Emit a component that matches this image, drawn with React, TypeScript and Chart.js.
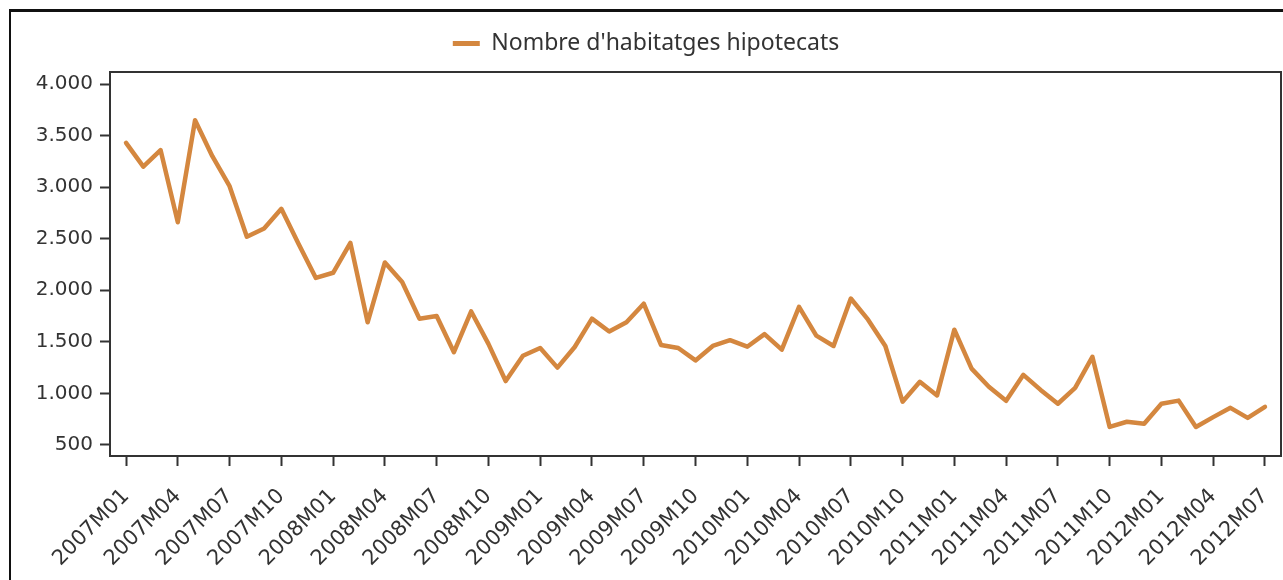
import { useEffect, useRef } from "react";
import { Chart, registerables } from "chart.js";

Chart.register(...registerables);

const months = [
  "2007M01", "2007M02", "2007M03", "2007M04", "2007M05", "2007M06", "2007M07", "2007M08", "2007M09", "2007M10", "2007M11", "2007M12",
  "2008M01", "2008M02", "2008M03", "2008M04", "2008M05", "2008M06", "2008M07", "2008M08", "2008M09", "2008M10", "2008M11", "2008M12",
  "2009M01", "2009M02", "2009M03", "2009M04", "2009M05", "2009M06", "2009M07", "2009M08", "2009M09", "2009M10", "2009M11", "2009M12",
  "2010M01", "2010M02", "2010M03", "2010M04", "2010M05", "2010M06", "2010M07", "2010M08", "2010M09", "2010M10", "2010M11", "2010M12",
  "2011M01", "2011M02", "2011M03", "2011M04", "2011M05", "2011M06", "2011M07", "2011M08", "2011M09", "2011M10", "2011M11", "2011M12",
  "2012M01", "2012M02", "2012M03", "2012M04", "2012M05", "2012M06", "2012M07",
];

const mortgagedHomes = [
  3430, 3200, 3360, 2660, 3650, 3300, 3010, 2520, 2600, 2790, 2450, 2120,
  2170, 2460, 1690, 2270, 2080, 1725, 1750, 1400, 1795, 1480, 1120, 1365,
  1440, 1250, 1450, 1725, 1600, 1690, 1870, 1470, 1440, 1320, 1460, 1516,
  1453, 1575, 1424, 1840, 1560, 1460, 1920, 1715, 1460, 920, 1113, 980,
  1618, 1240, 1064, 928, 1180, 1034, 900, 1054, 1355, 675, 725, 705,
  900, 930, 675, 770, 860, 763, 870,
];

const seriesLabel = "Nombre d'habitatges hipotecats";
const yTickValues = [500, 1000, 1500, 2000, 2500, 3000, 3500, 4000];
const xTickIndices = [0, 3, 6, 9, 12, 15, 18, 21, 24, 27, 30, 33, 36, 39, 42, 45, 48, 51, 54, 57, 60, 63, 66];
const yMin = 393;
const yMax = 4117;
const xMin = -0.93;
const xMax = 66.93;

const lineColor = "#D4873F";
const axisColor = "#333333";
const textColor = "#333333";

function formatThousands(v: number): string {
  const n = Math.round(v);
  if (n >= 1000) {
    return Math.floor(n / 1000) + "." + String(n % 1000).padStart(3, "0");
  }
  return String(n);
}

const framePlugin = {
  id: "plotFrame",
  afterInit(chart: any) {
    const lg = chart.legend;
    if (lg) {
      const origFit = lg.fit.bind(lg);
      lg.fit = () => {
        origFit();
        lg.height += 7;
      };
    }
  },
  afterDraw(chart: any) {
    const { ctx, chartArea: a } = chart;
    ctx.save();
    ctx.strokeStyle = axisColor;
    ctx.lineWidth = 2;
    ctx.strokeRect(a.left, a.top, a.right - a.left, a.bottom - a.top);
    ctx.restore();
  },
};

export default function App() {
  const canvasRef = useRef<HTMLCanvasElement | null>(null);

  useEffect(() => {
    document.body.style.overflow = "hidden";
    const canvas = canvasRef.current;
    if (!canvas) return;
    const chart = new Chart(canvas, {
      type: "line",
      data: {
        datasets: [
          {
            label: seriesLabel,
            data: mortgagedHomes.map((v, i) => ({ x: i, y: v })),
            borderColor: lineColor,
            backgroundColor: lineColor,
            borderWidth: 4.5,
            pointRadius: 0,
            pointHoverRadius: 0,
            tension: 0,
            borderJoinStyle: "round",
            borderCapStyle: "round",
          },
        ],
      },
      options: {
        animation: false,
        responsive: false,
        devicePixelRatio: 1,
        layout: { padding: { top: 0, right: 2, left: 0, bottom: 0 } },
        plugins: {
          tooltip: { enabled: false },
          legend: {
            display: true,
            position: "top",
            align: "center",
            labels: {
              font: { family: "'Noto Sans'", size: 23 },
              color: textColor,
              boxWidth: 27,
              boxHeight: 5,
              padding: 20,
              generateLabels: (c: any) =>
                Chart.defaults.plugins.legend.labels
                  .generateLabels(c)
                  .map((l: any) => ({ ...l, lineWidth: 0, fillStyle: lineColor, strokeStyle: lineColor })),
            },
          },
        },
        scales: {
          x: {
            type: "linear",
            min: xMin,
            max: xMax,
            border: { display: false },
            grid: {
              display: true,
              drawOnChartArea: false,
              drawTicks: true,
              tickLength: 10,
              tickWidth: 2,
              tickColor: axisColor,
            },
            ticks: {
              autoSkip: false,
              maxRotation: 45,
              minRotation: 45,
              padding: 18,
              color: textColor,
              font: { family: "'DejaVu Sans'", size: 21 },
              callback: (v: any) => months[Math.round(Number(v))] ?? "",
            },
            afterBuildTicks: (s: any) => {
              s.ticks = xTickIndices.map((v) => ({ value: v }));
            },
            afterFit: (s: any) => {
              s.height = 124;
              s.paddingLeft = 0;
              s.paddingRight = 0;
            },
          },
          y: {
            type: "linear",
            min: yMin,
            max: yMax,
            border: { display: false },
            grid: {
              display: true,
              drawOnChartArea: false,
              drawTicks: true,
              tickLength: 10,
              tickWidth: 2,
              tickColor: axisColor,
            },
            ticks: {
              padding: 7,
              color: textColor,
              font: { family: "'DejaVu Sans'", size: 20 },
              callback: (v: any) => formatThousands(Number(v)),
            },
            afterBuildTicks: (s: any) => {
              s.ticks = yTickValues.map((v) => ({ value: v }));
            },
            afterFit: (s: any) => {
              s.width = 99;
              s.paddingTop = 0;
              s.paddingBottom = 0;
            },
          },
        },
      },
      plugins: [framePlugin],
    });
    return () => chart.destroy();
  }, []);

  return (
    <div
      style={{
        position: "absolute",
        left: 9,
        top: 9,
        borderTop: "3px solid #111",
        borderLeft: "2px solid #111",
        width: 1272,
        height: 568,
        overflow: "hidden",
      }}
    >
      <canvas ref={canvasRef} width={1272} height={568} style={{ display: "block" }} />
    </div>
  );
}
